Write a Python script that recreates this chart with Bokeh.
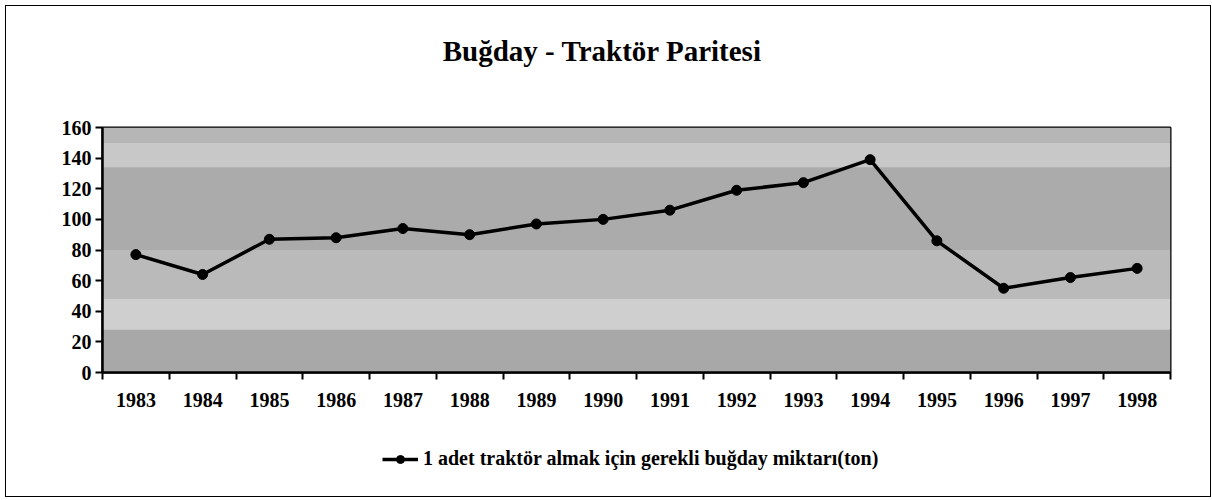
from bokeh.plotting import figure
from bokeh.layouts import column
from bokeh.models import (FixedTicker, Legend, LegendItem, Label, BoxAnnotation,
                          ColumnDataSource, Range1d)
from bokeh.embed import file_html
from bokeh.resources import INLINE

years = ["1983", "1984", "1985", "1986", "1987", "1988", "1989", "1990",
         "1991", "1992", "1993", "1994", "1995", "1996", "1997", "1998"]
values = [77, 64, 87, 88, 94, 90, 97, 100, 106, 119, 124, 139, 86, 55, 62, 68]
y_ticks = [0, 20, 40, 60, 80, 100, 120, 140, 160]
title_text = "Buğday - Traktör  Paritesi"
series_name = "1 adet traktör almak için gerekli buğday miktarı(ton)"

FONT = "Liberation Serif"
W = 1203


def blank(h):
    f = figure(width=W, height=h, output_backend="svg", toolbar_location=None,
               x_range=Range1d(0, W), y_range=Range1d(0, h),
               x_axis_location=None, y_axis_location=None,
               min_border=0, title=None, frame_align=False)
    f.grid.visible = False
    f.outline_line_color = None
    f.background_fill_color = "white"
    f.border_fill_color = "white"
    return f


# ---- title strip ----
t = blank(100)
t.add_layout(Label(x=W / 2 - 2, y=56, text=title_text, text_font=FONT,
                   text_font_style="bold", text_font_size="29px",
                   text_align="center", text_baseline="middle",
                   text_color="black"))

# ---- main chart ----
xs = [i + 0.5 for i in range(len(years))]
src = ColumnDataSource(dict(x=xs, y=values, year=years))

p = figure(width=W, height=320, output_backend="svg", toolbar_location=None,
           x_range=Range1d(0, len(years)), y_range=Range1d(0, 160),
           min_border_left=96, min_border_right=39, min_border_top=21,
           min_border_bottom=54, title=None, frame_align=False)
p.background_fill_color = "#b0b0b0"
p.border_fill_color = "white"
p.outline_line_color = "black"
p.outline_line_width = 2
p.grid.visible = False

for lo, hi, col in [(0, 28, "#a8a8a8"), (28, 48, "#cfcfcf"), (48, 80, "#bababa"),
                    (80, 134, "#ababab"), (134, 150, "#c8c8c8"), (150, 160, "#b6b6b6")]:
    p.add_layout(BoxAnnotation(bottom=lo, top=hi, fill_color=col, fill_alpha=1,
                               line_alpha=0, level="underlay"))

p.line("x", "y", source=src, line_color="black", line_width=3.5)
p.scatter("x", "y", source=src, size=10, marker="circle",
          fill_color="black", line_color="black")

p.xaxis.ticker = FixedTicker(ticks=xs, minor_ticks=list(range(len(years) + 1)))
p.xaxis.major_label_overrides = {x: y for x, y in zip(xs, years)}
p.xaxis.major_tick_out = 0
p.xaxis.major_tick_in = 0
p.xaxis.minor_tick_out = 7
p.xaxis.minor_tick_in = 0
p.xaxis.minor_tick_line_width = 2
p.xaxis.minor_tick_line_color = "black"
p.xaxis.major_label_standoff = 13
p.xaxis.axis_line_width = 2.5
p.xaxis.axis_line_color = "black"

p.yaxis.ticker = FixedTicker(ticks=y_ticks, minor_ticks=[])
p.yaxis.major_tick_out = 7
p.yaxis.major_tick_in = 0
p.yaxis.major_tick_line_width = 2
p.yaxis.axis_line_width = 2.5
p.yaxis.axis_line_color = "black"
p.yaxis.major_label_standoff = 4

for ax in (p.xaxis, p.yaxis):
    ax.major_label_text_font = FONT
    ax.major_label_text_font_style = "bold"
    ax.major_label_text_font_size = "20px"
    ax.major_label_text_color = "black"

# ---- legend strip (proxy renderers sit outside the visible range) ----
lg = blank(69)
proxy = ColumnDataSource(dict(x=[-1000], y=[-1000]))
l_line = lg.line("x", "y", source=proxy, line_color="black", line_width=3.5)
l_pts = lg.scatter("x", "y", source=proxy, size=10, marker="circle",
                   fill_color="black", line_color="black")
legend = Legend(items=[LegendItem(label=series_name, renderers=[l_line, l_pts])],
                location=(372, 21), orientation="horizontal",
                label_text_font=FONT, label_text_font_style="bold",
                label_text_font_size="20px", label_text_color="black",
                border_line_alpha=0, background_fill_alpha=0,
                glyph_width=36, label_standoff=5, margin=0, padding=4)
lg.add_layout(legend, "center")

layout = column(t, p, lg, width=1206, height=492, spacing=0)
layout.styles = {"border": "1.5px solid black", "box-sizing": "border-box",
                 "margin": "5px 0 0 5px", "background": "white"}

open("out.html", "w").write(file_html(layout, INLINE))
